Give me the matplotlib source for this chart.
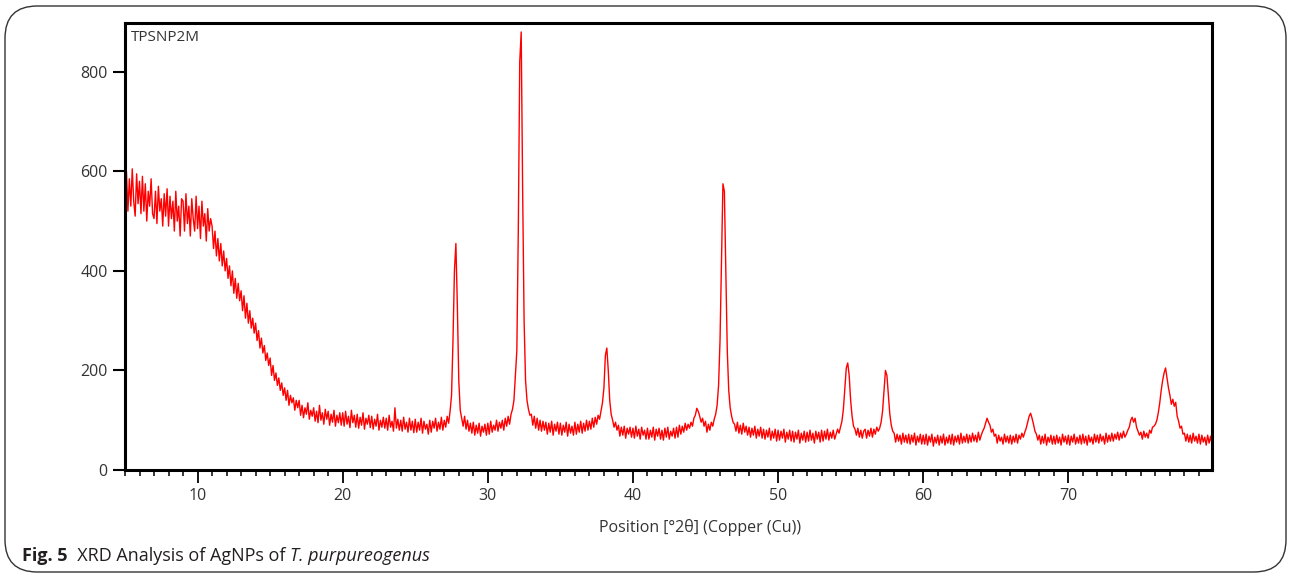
"""
XRD pattern of AgNPs (T. purpureogenus) - recreated with matplotlib.
"""

import numpy as np
import matplotlib
matplotlib.use("Agg")
import matplotlib.pyplot as plt
from matplotlib.patches import FancyBboxPatch
from matplotlib.ticker import MultipleLocator

plt.rcParams["font.family"] = ["Open Sans", "DejaVu Sans"]

TEXT = "#231f20"
TICK = "#333333"
LINE = "#ff0000"

# scan range (degrees 2-theta), step 0.1
SCAN_START = 5.0
SCAN_STEP = 0.1

# counts, one row per degree (5.0-5.9, 6.0-6.9, ...)
counts = [
    545, 600, 520, 585, 530, 605, 540, 510, 595, 535,   # 5
    580, 515, 590, 520, 575, 500, 560, 530, 585, 515,   # 6
    505, 560, 495, 570, 520, 545, 490, 555, 510, 565,   # 7
    490, 550, 505, 540, 480, 560, 500, 530, 470, 545,   # 8
    540, 480, 555, 495, 530, 470, 545, 505, 480, 550,   # 9
    485, 530, 465, 540, 490, 515, 460, 525, 480, 505,   # 10
    490, 445, 480, 430, 465, 420, 455, 410, 440, 400,   # 11
    425, 385, 410, 370, 400, 355, 385, 345, 375, 340,   # 12
    360, 320, 350, 305, 335, 295, 320, 285, 305, 275,   # 13
    295, 260, 280, 245, 265, 235, 250, 220, 235, 210,   # 14
    225, 190, 210, 180, 195, 170, 185, 160, 175, 150,   # 15
    165, 140, 160, 130, 150, 135, 145, 120, 140, 125,   # 16
    140, 110, 130, 105, 125, 112, 135, 102, 120, 108,   # 17
    125, 98, 118, 95, 130, 100, 115, 92, 122, 102,      # 18
    118, 90, 112, 96, 120, 88, 110, 95, 115, 90,        # 19
    115, 88, 118, 92, 108, 85, 120, 95, 110, 86,        # 20
    112, 84, 106, 90, 115, 82, 104, 92, 110, 85,        # 21
    108, 82, 102, 88, 112, 80, 100, 86, 106, 84,        # 22
    104, 80, 110, 86, 98, 78, 125, 84, 102, 80,         # 23
    100, 78, 106, 82, 96, 76, 104, 80, 98, 75,          # 24
    102, 76, 96, 80, 104, 74, 98, 82, 92, 72,           # 25
    100, 76, 98, 84, 104, 78, 96, 82, 106, 80,          # 26
    100, 86, 108, 94, 118, 150, 260, 400, 455, 330,     # 27
    180, 120, 104, 88, 108, 82, 100, 78, 94, 74,        # 28
    96, 70, 90, 74, 94, 68, 88, 76, 92, 70,             # 29
    94, 72, 98, 76, 90, 80, 100, 78, 96, 84,            # 30
    100, 80, 104, 88, 108, 92, 112, 122, 140, 190,      # 31
    240, 480, 820, 880, 560, 300, 180, 140, 122, 110,   # 32
    112, 90, 108, 84, 104, 80, 100, 78, 98, 80,         # 33
    96, 72, 94, 76, 98, 70, 92, 78, 96, 72,             # 34
    94, 70, 90, 76, 96, 68, 92, 74, 88, 70,             # 35
    96, 72, 92, 76, 98, 74, 94, 78, 100, 80,            # 36
    98, 82, 104, 86, 106, 92, 110, 102, 118, 135,       # 37
    165, 230, 245, 200, 140, 112, 100, 86, 96, 80,      # 38
    90, 68, 86, 70, 88, 64, 84, 72, 86, 66,             # 39
    84, 64, 88, 68, 82, 62, 86, 70, 80, 62,             # 40
    84, 62, 80, 66, 86, 60, 82, 68, 84, 62,             # 41
    80, 60, 84, 66, 86, 62, 78, 68, 84, 64,             # 42
    86, 66, 90, 72, 88, 76, 94, 80, 92, 84,             # 43
    96, 88, 104, 110, 124, 118, 108, 96, 104, 88,       # 44
    98, 76, 92, 80, 96, 88, 102, 112, 130, 170,         # 45
    260, 420, 575, 560, 400, 240, 160, 125, 108, 96,    # 46
    92, 78, 96, 74, 90, 72, 94, 76, 88, 70,             # 47
    86, 66, 84, 70, 88, 64, 82, 68, 86, 64,             # 48
    82, 62, 80, 66, 84, 60, 78, 64, 82, 58,             # 49
    80, 60, 78, 64, 82, 56, 76, 62, 80, 58,             # 50
    78, 56, 76, 62, 80, 54, 74, 60, 78, 56,             # 51
    76, 58, 80, 60, 74, 54, 78, 62, 76, 56,             # 52
    80, 58, 78, 62, 82, 60, 76, 64, 80, 62,             # 53
    72, 82, 74, 86, 98, 122, 165, 205, 215, 190,        # 54
    140, 108, 88, 82, 70, 84, 66, 80, 64, 78,           # 55
    82, 64, 80, 68, 84, 66, 82, 72, 86, 78,             # 56
    84, 96, 118, 160, 200, 190, 150, 112, 90, 78,       # 57
    74, 56, 72, 58, 70, 52, 74, 56, 70, 54,             # 58
    72, 52, 70, 56, 74, 50, 68, 56, 72, 52,             # 59
    70, 52, 72, 50, 68, 56, 72, 48, 66, 54,             # 60
    70, 50, 68, 54, 72, 50, 66, 54, 70, 52,             # 61
    72, 50, 68, 56, 70, 52, 74, 54, 68, 56,             # 62
    72, 54, 70, 56, 74, 58, 70, 56, 76, 60,             # 63
    70, 78, 84, 94, 104, 96, 90, 76, 82, 68,            # 64
    72, 54, 70, 58, 66, 52, 72, 56, 68, 54,             # 65
    70, 52, 68, 56, 72, 54, 70, 62, 74, 66,             # 66
    76, 84, 96, 108, 114, 104, 92, 78, 72, 60,          # 67
    70, 52, 68, 54, 72, 50, 66, 56, 70, 52,             # 68
    68, 52, 70, 54, 66, 50, 72, 56, 68, 52,             # 69
    70, 50, 68, 56, 72, 52, 66, 54, 70, 52,             # 70
    72, 54, 68, 50, 70, 56, 66, 52, 72, 56,             # 71
    70, 54, 72, 58, 68, 52, 74, 56, 70, 58,             # 72
    74, 58, 72, 62, 76, 60, 74, 64, 78, 66,             # 73
    72, 80, 86, 100, 106, 96, 104, 86, 78, 70,          # 74
    76, 62, 78, 66, 74, 64, 80, 74, 86, 88,             # 75
    92, 100, 115, 135, 160, 180, 195, 205, 185, 165,    # 76
    150, 132, 142, 128, 136, 108, 98, 84, 88, 72,       # 77
    74, 58, 72, 56, 70, 54, 74, 58, 68, 54,             # 78
    72, 52, 70, 56, 66, 50, 70, 54, 68, 52,             # 79
    60,                                                 # 80
]

two_theta = SCAN_START + SCAN_STEP * np.arange(len(counts))

sample_name = "TPSNP2M"
x_label = "Position [°2θ] (Copper (Cu))"
caption_bold = "Fig. 5"
caption_plain = "  XRD Analysis of AgNPs of "
caption_italic = "T. purpureogenus"

fig = plt.figure(figsize=(12.9, 5.77), dpi=100)
fig.patch.set_facecolor("white")

# rounded frame around the whole figure
frame = FancyBboxPatch((5 / 1290, 5 / 577), 1281 / 1290, 566 / 577,
                       boxstyle="round,pad=0,rounding_size=0.025",
                       transform=fig.transFigure, facecolor="none",
                       edgecolor="#333333", linewidth=1.0,
                       mutation_aspect=1290 / 577)
fig.patches.append(frame)

ax = fig.add_axes([125 / 1290, 1 - 470 / 577, 1087 / 1290, 447 / 577])
ax.plot(two_theta, counts, color=LINE, linewidth=1.0)

ax.set_xlim(5, 79.9)
ax.set_ylim(0, 898)
ax.xaxis.set_major_locator(MultipleLocator(10))
ax.xaxis.set_minor_locator(MultipleLocator(1))
ax.yaxis.set_major_locator(MultipleLocator(200))

for spine in ax.spines.values():
    spine.set_linewidth(2.2)
    spine.set_color("black")

ax.tick_params(axis="y", which="major", length=8.5, width=1.5, pad=4,
               colors="black", labelcolor=TICK, labelsize=11.5)
ax.tick_params(axis="x", which="major", length=9, width=1.3, pad=4,
               colors="black", labelcolor=TICK, labelsize=11.5)
ax.tick_params(axis="x", which="minor", length=4.5, width=1.1, colors="black")

ax.set_xlabel(x_label, fontsize=11.5, color=TICK)
ax.xaxis.set_label_coords((700 - 125) / 1087, -0.11)

ax.text(0.005, 0.985, sample_name, transform=ax.transAxes, ha="left", va="top",
        fontsize=11, color=TICK)

# caption with mixed styles
fig.canvas.draw()
renderer = fig.canvas.get_renderer()
cap_y = 1 - 561 / 577
t1 = fig.text(22 / 1290, cap_y, caption_bold, fontsize=13, fontweight="bold",
              color=TEXT, va="baseline")
bb = t1.get_window_extent(renderer)
t2 = fig.text(bb.x1 / fig.bbox.width, cap_y, caption_plain, fontsize=13,
              color=TEXT, va="baseline")
bb = t2.get_window_extent(renderer)
fig.text(bb.x1 / fig.bbox.width, cap_y, caption_italic, fontsize=13,
         style="italic", color=TEXT, va="baseline")

fig.savefig("out.png", dpi=100, facecolor="white")
plt.close(fig)
